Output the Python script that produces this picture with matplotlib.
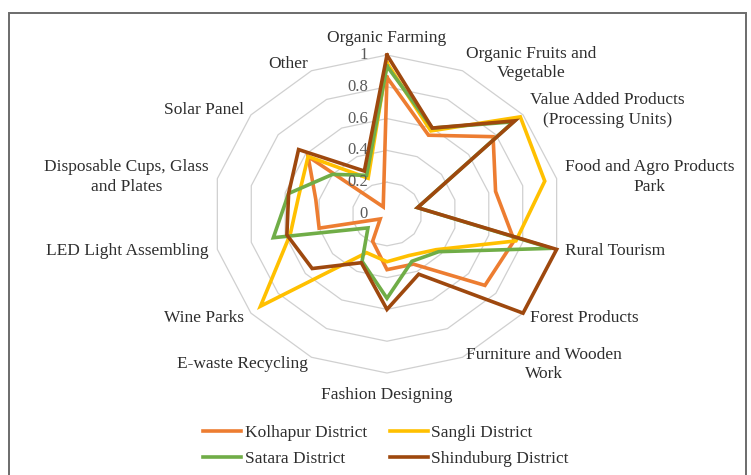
import numpy as np
import matplotlib
matplotlib.use("Agg")
import matplotlib.pyplot as plt
from matplotlib.lines import Line2D
from matplotlib.patches import Rectangle
from matplotlib.transforms import offset_copy

plt.rcParams["font.family"] = ["Liberation Serif", "DejaVu Serif"]

categories = [
    "Organic Farming",
    "Organic Fruits and\nVegetable",
    "Value Added Products\n(Processing Units)",
    "Food and Agro Products\nPark",
    "Rural Tourism",
    "Forest Products",
    "Furniture and Wooden\nWork",
    "Fashion Designing",
    "E-waste Recycling",
    "Wine Parks",
    "LED Light Assembling",
    "Disposable Cups, Glass\nand Plates",
    "Solar Panel",
    "Other",
]

kolhapur = [0.86, 0.55, 0.78, 0.64, 0.75, 0.72, 0.35, 0.35, 0.19, 0.05, 0.40, 0.42, 0.58, 0.05]
sangli = [0.95, 0.58, 0.98, 0.93, 0.76, 0.36, 0.29, 0.30, 0.27, 0.93, 0.57, 0.52, 0.58, 0.25]
satara = [0.93, 0.60, 0.93, 0.18, 0.97, 0.38, 0.33, 0.53, 0.33, 0.14, 0.67, 0.58, 0.40, 0.27]
shinduburg = [1.00, 0.60, 0.94, 0.18, 1.00, 1.00, 0.42, 0.60, 0.34, 0.55, 0.59, 0.58, 0.65, 0.30]

series_names = ["Kolhapur District", "Sangli District", "Satara District", "Shinduburg District"]
ring_levels = [0.2, 0.4, 0.6, 0.8, 1.0]
tick_labels = ["0", "0.2", "0.4", "0.6", "0.8", "1"]

COLORS = ["#ED7D31", "#FFC000", "#70AD47", "#9E480E"]
RING_COLOR = "#D0D0D0"
TEXT_COLOR = "#2E2E2E"
LW = 2.6

fig = plt.figure(figsize=(7.51, 4.75), dpi=100)
fig.patch.set_facecolor("white")

# chart border (cropped at the bottom in the original)
fig.patches.append(Rectangle((9 / 751, -0.05), 737 / 751, 1.05 - 13 / 475,
                             transform=fig.transFigure, fill=False,
                             edgecolor="#6B6B6B", linewidth=1.4))

ax = fig.add_axes([0.2836, 0.2147, 0.4634, 0.6695], projection="polar")
ax.set_aspect("auto")
ax.set_theta_zero_location("N")
ax.set_theta_direction(-1)
ax.set_ylim(0, 1)
ax.grid(False)
ax.spines["polar"].set_visible(False)
ax.set_xticks([])
ax.set_yticks([])
ax.patch.set_alpha(0)

n = len(categories)
theta = np.linspace(0, 2 * np.pi, n, endpoint=False)
theta_closed = np.append(theta, theta[0])

for r in ring_levels:
    ax.plot(theta_closed, [r] * (n + 1), color=RING_COLOR, linewidth=0.9,
            zorder=1, clip_on=False)

all_series = [kolhapur, sangli, satara, shinduburg]
for vals, color in zip(all_series, COLORS):
    ax.plot(theta_closed, vals + vals[:1], color=color, linewidth=LW,
            zorder=3, clip_on=False, solid_joinstyle="miter")

# radial value labels along the top spoke
tick_tr = offset_copy(ax.transData, fig=fig, x=-19, y=0, units="dots")
for r, lab in zip([0.0] + ring_levels, tick_labels):
    ax.text(0, r, lab, transform=tick_tr, ha="right", va="center",
            fontsize=12, color="#595959", zorder=4)

# category labels around the outside
for t, lab in zip(theta, categories):
    s = np.sin(t)
    if abs(s) < 0.1:
        ha = "center"
        r = 1.11 if np.cos(t) > 0 else 1.14
    else:
        ha = "left" if s > 0 else "right"
        r = 1.05
    ax.text(t, r, lab, ha=ha, va="center", multialignment="center",
            fontsize=12.5, color=TEXT_COLOR, linespacing=1.3)

# legend filled column-wise, so order gives rows: Kolhapur/Sangli, Satara/Shinduburg
order = [0, 2, 1, 3]
handles = [Line2D([], [], color=COLORS[i], linewidth=LW) for i in order]
labels = [series_names[i] for i in order]
fig.legend(handles, labels, loc="center", ncol=2,
           bbox_to_anchor=(386 / 751, 1 - 446 / 475), frameon=False,
           fontsize=12.5, handlelength=2.2, handletextpad=0.2,
           columnspacing=1.3, labelspacing=0.55, labelcolor=TEXT_COLOR)

fig.savefig("out.png", dpi=100)
